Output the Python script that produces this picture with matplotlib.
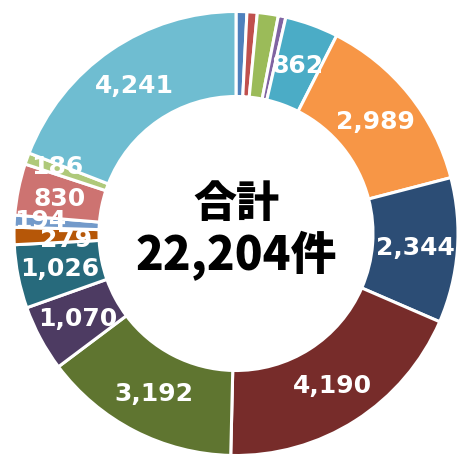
import matplotlib
matplotlib.use("Agg")
import matplotlib.pyplot as plt
import numpy as np

# Counts per category, clockwise from 12 o'clock
values = [175, 166, 338, 122, 862, 2989, 2344, 4190, 3192, 1070, 1026, 279, 194, 830, 186, 4241]
show_label = [False, False, False, False, True, True, True, True, True, True, True, True, True, True, True, True]
colors = ["#4F81BD", "#C0504D", "#9BBB59", "#8064A2", "#4BACC6", "#F79646",
          "#2C4D75", "#772C2A", "#5F7530", "#4D3B62", "#276A7C", "#B65708",
          "#729ACA", "#CD7371", "#AFC97A", "#6FBDD1"]
# small nudges (pixels, +y = downward) for crowded labels
nudge = {11: (10, 3), 12: (-17, -3), 14: (-10, -7)}

total_title = "合計"
total_text = "22,204件"

W, H = 459, 456
fig = plt.figure(figsize=(W / 100, H / 100), dpi=100)
ax = fig.add_axes([0, 0, 1, 1])

cx, cy = 236, H - 234.5
R_out, R_in = 222, 137

wedges, _ = ax.pie(values, colors=colors, startangle=90, counterclock=False,
                   radius=R_out, center=(cx, cy),
                   wedgeprops=dict(width=R_out - R_in, edgecolor="white", linewidth=2.2))

r_mid = (R_out + R_in) / 2
for i, (w, v) in enumerate(zip(wedges, values)):
    if not show_label[i]:
        continue
    ang = np.deg2rad((w.theta1 + w.theta2) / 2)
    x = cx + r_mid * np.cos(ang)
    y = cy + r_mid * np.sin(ang)
    dx, dy = nudge.get(i, (0, 0))
    ax.text(x + dx, y - dy, f"{v:,}", ha="center", va="center", color="white",
            fontsize=18, fontweight="bold", family=["DejaVu Sans"])

ax.text(cx, H - 204, total_title, ha="center", va="center", fontsize=31,
        fontweight="heavy", family=["Noto Sans CJK JP", "DejaVu Sans"], color="black")
ax.text(cx, H - 256, total_text, ha="center", va="center", fontsize=33,
        fontweight="heavy", family=["Noto Sans CJK JP", "DejaVu Sans"], color="black")

ax.set_xlim(0, W)
ax.set_ylim(0, H)
ax.set_aspect("equal")
ax.axis("off")
fig.savefig("out.png", dpi=100, facecolor="white")
